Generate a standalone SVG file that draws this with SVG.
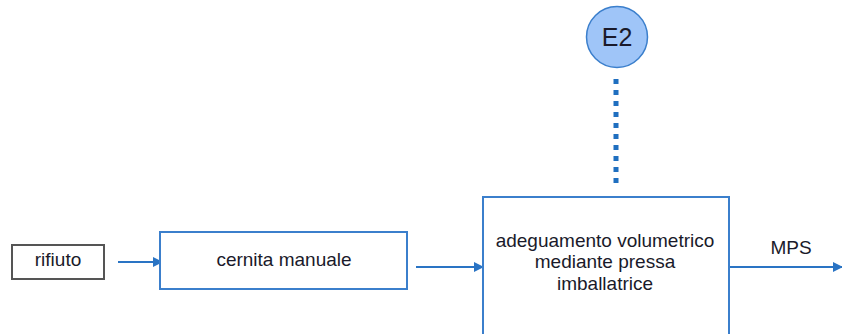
<svg xmlns="http://www.w3.org/2000/svg" width="842" height="334" viewBox="0 0 842 334">
<style>
.t{font-family:"Liberation Sans",Arial,sans-serif;font-size:19px;fill:#1a1a2a;text-anchor:middle}
.b{fill:#fff;stroke:#3b7fcc;stroke-width:2}
.c{stroke:#2a74c4;stroke-width:2;fill:none}
</style>
<defs>
<marker id="ah" viewBox="0 0 10 10" refX="9" refY="5" markerWidth="5" markerHeight="5" orient="auto" markerUnits="strokeWidth">
<path d="M0,0 L10,5 L0,10 z" fill="#2a74c4"/>
</marker>
</defs>
<rect width="842" height="334" fill="#fff"/>
<g id="connectors">
<line class="c" x1="118" y1="262" x2="162" y2="262" marker-end="url(#ah)"/>
<line class="c" x1="416" y1="267" x2="483" y2="267" marker-end="url(#ah)"/>
<line class="c" x1="729" y1="267" x2="842" y2="267" marker-end="url(#ah)"/>
<line x1="616" y1="79" x2="616" y2="184" stroke="#1f6fc0" stroke-width="5" stroke-dasharray="5,6"/>
<text class="t" x="791" y="254">MPS</text>
</g>
<g id="rifiuto">
<rect x="12" y="245" width="92" height="34" fill="#fff" stroke="#555" stroke-width="2"/>
<text class="t" x="58" y="266">rifiuto</text>
</g>
<g id="cernita">
<rect class="b" x="160" y="232" width="247" height="57"/>
<text class="t" x="284" y="266">cernita manuale</text>
</g>
<g id="adeguamento">
<rect class="b" x="483" y="197" width="246" height="150"/>
<text class="t" x="605" y="247">adeguamento volumetrico</text>
<text class="t" x="605" y="268">mediante pressa</text>
<text class="t" x="605" y="290">imballatrice</text>
</g>
<g id="E2">
<circle cx="617" cy="37" r="30.5" fill="#9fc5f8" stroke="#3b7fcc" stroke-width="1.5"/>
<text class="t" x="617" y="46" style="font-size:25px">E2</text>
</g>
</svg>
